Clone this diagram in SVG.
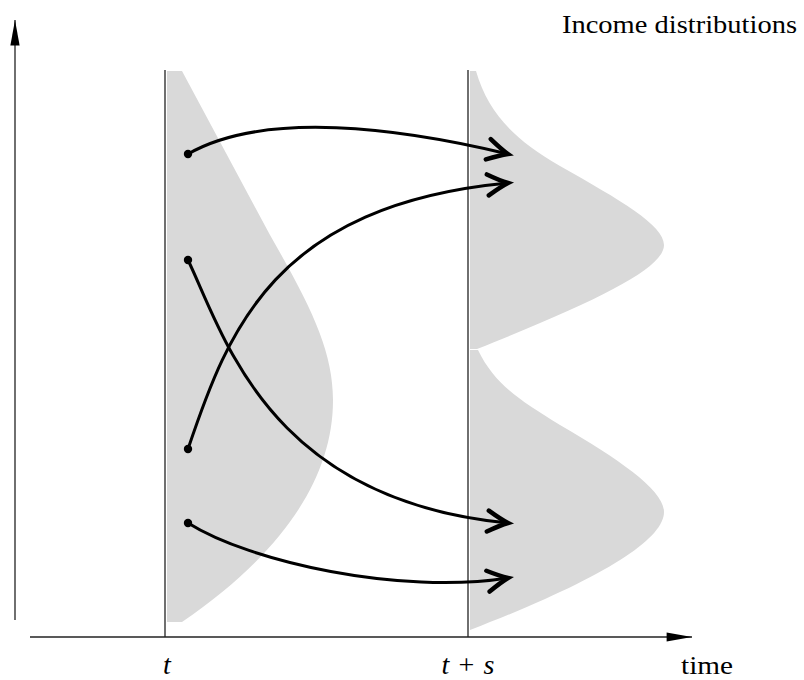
<svg xmlns="http://www.w3.org/2000/svg" width="804" height="680" viewBox="0 0 804 680">
<style>
.shade{fill:#d9d9d9;stroke:none}
.axis{stroke:#222;stroke-width:1.3;fill:none}
.vline{stroke:#222;stroke-width:1.3;fill:none}
.flow{stroke:#000;stroke-width:3;fill:none;marker-end:url(#open)}
.dot{fill:#000}
</style>
<defs>
<marker id="open" markerUnits="userSpaceOnUse" markerWidth="30" markerHeight="30" refX="0" refY="0" viewBox="-16 -10 20 20" orient="auto" overflow="visible">
<path d="M-13.5,-7 Q-5,-2 0,0 Q-5,2 -13.5,7" fill="none" stroke="#000" stroke-width="3" stroke-linecap="round"/>
</marker>
<marker id="solid" markerUnits="userSpaceOnUse" markerWidth="30" markerHeight="30" refX="0" refY="0" viewBox="-24 -6 26 12" orient="auto" overflow="visible">
<path d="M-22,-4 L0,0 L-22,4 Z" fill="#000"/>
</marker>
</defs>
<g id="distribution-t">
<path class="shade" d="M167,71 H182 L270,235 C310,305 333,350 333,400 C333,480 280,555 182,622 H167 Z"/>
</g>
<g id="distribution-ts">
<path class="shade" d="M470,71 H476 C488,112 512,138 560,166 C620,200 664,225 664,245 C664,268 600,300 477,349 L470,349 Z"/>
<path class="shade" d="M470,350 H478 C495,385 520,400 560,425 C620,460 664,490 664,512 C664,540 600,580 470,630 Z"/>
</g>
<g id="axes">
<path class="axis" d="M15,620 V20" marker-end="url(#solid)"/>
<path class="axis" d="M30,637 H692" marker-end="url(#solid)"/>
<path class="vline" d="M165,70 V637"/>
<path class="vline" d="M468,70 V637"/>
</g>
<g id="connectors">
<path class="flow" d="M188,154 C265,110 400,128 508,154"/>
<path class="flow" d="M188,449 C228,330 275,205 508,183"/>
<path class="flow" d="M188,260 C224,335 268,500 508,523"/>
<path class="flow" d="M188,523 C250,562 400,595 508,578"/>
</g>
<g id="dots">
<circle class="dot" cx="188" cy="154" r="4.2"/>
<circle class="dot" cx="188" cy="260" r="4.2"/>
<circle class="dot" cx="188" cy="449" r="4.2"/>
<circle class="dot" cx="188" cy="523" r="4.2"/>
</g>
<g id="labels" font-family="'Liberation Serif', 'DejaVu Serif', serif" font-size="26" fill="#000">
<text x="562" y="33" textLength="235" lengthAdjust="spacingAndGlyphs">Income distributions</text>
<text x="167" y="674" text-anchor="middle" font-style="italic" font-size="28">t</text>
<text x="468" y="674" text-anchor="middle" font-size="28" textLength="53" lengthAdjust="spacing"><tspan font-style="italic">t</tspan> + <tspan font-style="italic">s</tspan></text>
<text x="681" y="674" textLength="52" lengthAdjust="spacingAndGlyphs">time</text>
</g>
</svg>
